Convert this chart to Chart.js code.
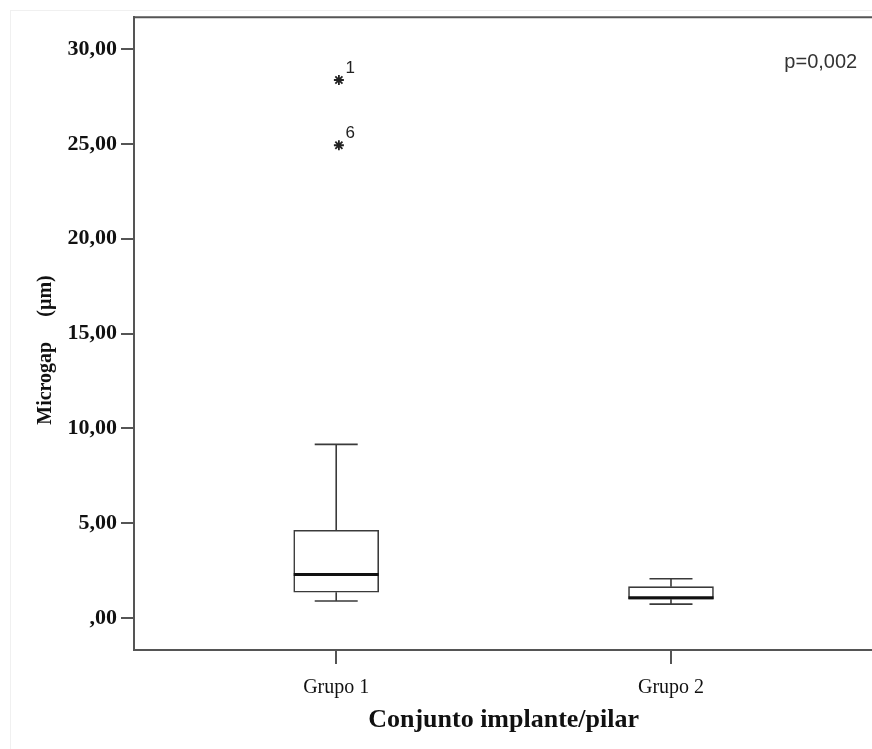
<!DOCTYPE html>
<html>
<head>
<meta charset="utf-8">
<script src="https://cdn.jsdelivr.net/npm/chart.js@4.4.0/dist/chart.umd.min.js"></script>
<style>
  html, body { margin: 0; padding: 0; background: #fff; overflow: hidden; }
  #wrap { position: relative; width: 872px; height: 749px; overflow: hidden; }
  #frame { position: absolute; left: 10px; top: 10px; width: 900px; height: 800px;
           border-left: 1px solid #f0f0f0; border-top: 1px solid #f0f0f0; }
  canvas { position: absolute; left: 0; top: 0; }
</style>
</head>
<body>
<div id="wrap">
  <div id="frame"></div>
  <canvas id="box" width="880" height="749"></canvas>
</div>
<script>
// box plot values (µm)
const groups = ['Grupo 1', 'Grupo 2'];
const groupPos = [1, 2];
const mins = [0.9, 0.74];
const q1s = [1.37, 1.0];
const medians = [2.3, 1.08];
const q3s = [4.63, 1.66];
const maxs = [9.16, 2.08];

// extreme values (stars) with their case numbers
const outlierGroup = [1, 1];
const outlierVals = [28.37, 24.93];
const outlierCase = ['1', '6'];

const yTicks = [0, 5, 10, 15, 20, 25, 30];
const pText = 'p=0,002';

const SERIF = '"Liberation Serif", "Times New Roman", serif';
const SANS = '"Liberation Sans", Arial, sans-serif';
const LINE = '#3a3a3a';

// SPSS style number: 30,00 and ,00 for zero
const fmt = (v) => v === 0 ? ',00' : v.toFixed(2).replace('.', ',');

// whiskers, caps, median, frame and the small texts
const boxExtras = {
  id: 'boxExtras',
  afterDatasetsDraw(chart) {
    const { ctx, chartArea } = chart;
    const x = chart.scales.x, y = chart.scales.y;
    const boxW = 85, capW = 43;
    ctx.save();
    ctx.strokeStyle = LINE;
    ctx.lineCap = 'butt';

    groupPos.forEach((g, i) => {
      const cx = x.getPixelForValue(g);
      ctx.lineWidth = 1.6;
      ctx.beginPath();
      ctx.moveTo(cx, y.getPixelForValue(q3s[i]));
      ctx.lineTo(cx, y.getPixelForValue(maxs[i]));
      ctx.moveTo(cx, y.getPixelForValue(q1s[i]));
      ctx.lineTo(cx, y.getPixelForValue(mins[i]));
      ctx.moveTo(cx - capW / 2, y.getPixelForValue(maxs[i]));
      ctx.lineTo(cx + capW / 2, y.getPixelForValue(maxs[i]));
      ctx.moveTo(cx - capW / 2, y.getPixelForValue(mins[i]));
      ctx.lineTo(cx + capW / 2, y.getPixelForValue(mins[i]));
      ctx.stroke();

      // median
      ctx.lineWidth = 3;
      ctx.strokeStyle = '#111';
      ctx.beginPath();
      ctx.moveTo(cx - boxW / 2, y.getPixelForValue(medians[i]));
      ctx.lineTo(cx + boxW / 2, y.getPixelForValue(medians[i]));
      ctx.stroke();
      ctx.strokeStyle = LINE;
    });

    // top / right of the frame
    ctx.lineWidth = 2;
    ctx.strokeStyle = '#555';
    ctx.beginPath();
    ctx.moveTo(chartArea.left, chartArea.top);
    ctx.lineTo(chartArea.right, chartArea.top);
    ctx.lineTo(chartArea.right, chartArea.bottom);
    ctx.stroke();

    // case numbers next to the stars
    ctx.fillStyle = '#222';
    ctx.font = '17px ' + SANS;
    ctx.textAlign = 'center';
    ctx.textBaseline = 'middle';
    outlierVals.forEach((v, i) => {
      ctx.fillText(outlierCase[i], x.getPixelForValue(outlierGroup[i]) + 14, y.getPixelForValue(v) - 12);
    });

    // p value
    ctx.fillStyle = '#333';
    ctx.font = '20px ' + SANS;
    ctx.textAlign = 'right';
    ctx.textBaseline = 'alphabetic';
    ctx.fillText(pText, chartArea.right - 16, chartArea.top + 51);

    // y axis title
    ctx.fillStyle = '#111';
    ctx.font = 'bold 20px ' + SERIF;
    ctx.textAlign = 'center';
    ctx.textBaseline = 'middle';
    ctx.translate(46, 350);
    ctx.rotate(-Math.PI / 2);
    ctx.fillText('Microgap     (µm)', 0, 0);
    ctx.restore();
  }
};

new Chart(document.getElementById('box'), {
  type: 'bar',
  data: {
    datasets: [
      {
        label: 'caixa',
        data: groupPos.map((g, i) => ({ x: g, y: [q1s[i], q3s[i]] })),
        backgroundColor: '#fff',
        borderColor: LINE,
        borderWidth: 1.6,
        borderSkipped: false,
        barThickness: 85,
      },
      {
        type: 'scatter',
        label: 'extremos',
        data: outlierVals.map((v, i) => ({ x: outlierGroup[i] + 0.008, y: v })),
        pointStyle: 'star',
        radius: 5,
        borderWidth: 1.8,
        borderColor: '#222',
        backgroundColor: '#222',
      }
    ]
  },
  options: {
    responsive: false,
    animation: false,
    layout: { padding: { left: 0, top: 16, right: 4, bottom: 0 } },
    plugins: { legend: { display: false }, tooltip: { enabled: false } },
    scales: {
      x: {
        type: 'linear',
        offset: false,
        min: 0.396,
        max: 2.604,
        afterBuildTicks: (s) => { s.ticks = groupPos.map(v => ({ value: v })); },
        afterFit: (s) => { s.height = 99; },
        ticks: {
          callback: (v) => groups[groupPos.indexOf(v)],
          font: { family: SERIF, size: 20 },
          color: '#111',
          padding: 12,
          maxRotation: 0,
        },
        grid: { offset: false, drawOnChartArea: false, drawTicks: true, tickLength: 14, color: '#555', lineWidth: 2 },
        border: { color: '#555', width: 2 },
        title: {
          display: true,
          text: 'Conjunto implante/pilar',
          font: { family: SERIF, size: 26, weight: 'bold' },
          color: '#111',
          padding: { top: 0, bottom: 13 },
        },
      },
      y: {
        min: -1.68,
        max: 31.68,
        afterBuildTicks: (s) => { s.ticks = yTicks.map(v => ({ value: v })); },
        afterFit: (s) => { s.width = 134; },
        ticks: {
          callback: (v) => fmt(v),
          font: { family: SERIF, size: 22, weight: 'bold' },
          color: '#111',
          padding: 4,
        },
        grid: { drawOnChartArea: false, drawTicks: true, tickLength: 13, color: '#555', lineWidth: 2 },
        border: { color: '#555', width: 2 },
      }
    }
  },
  plugins: [boxExtras]
});
</script>
</body>
</html>
